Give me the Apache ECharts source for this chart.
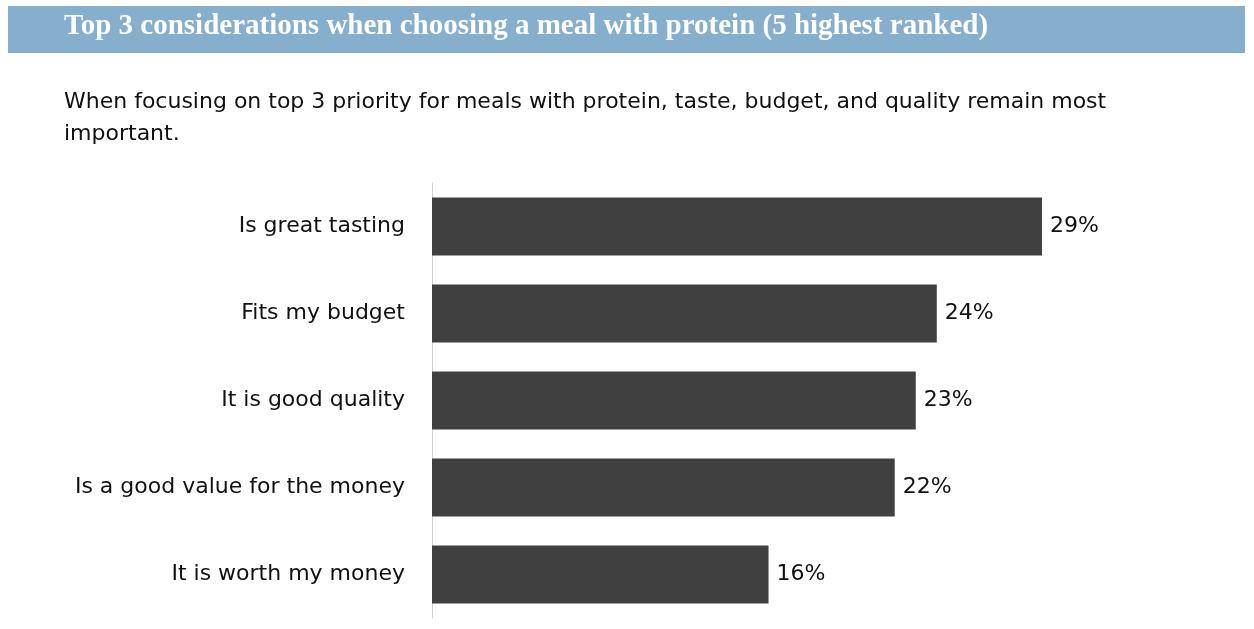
<!DOCTYPE html>
<html><head><meta charset="utf-8">
<script src="https://cdn.jsdelivr.net/npm/echarts@6/dist/echarts.min.js"></script>
<style>html,body{margin:0;padding:0;background:#fff}#main{width:1254px;height:629px}</style>
</head><body><div id="main"></div>
<script>
var categories = ['Is great tasting', 'Fits my budget', 'It is good quality', 'Is a good value for the money', 'It is worth my money'];
var values = [29, 24, 23, 22, 16];

var myChart = echarts.init(document.getElementById('main'));
var option = {
    animation: false,
    graphic: [
        { type: 'rect', shape: { x: 8, y: 6, width: 1237, height: 47 }, style: { fill: '#85AFCC' } },
        { type: 'text', left: 64, top: 12, style: { text: 'Top 3 considerations when choosing a meal with protein (5 highest ranked)', fill: '#fff', font: 'bold 29px "Liberation Serif"' } },
        { type: 'text', left: 64, top: 86, style: { text: 'When focusing on top 3 priority for meals with protein, taste, budget, and quality remain most\nimportant.', fill: '#111', font: '22px "DejaVu Sans"', lineHeight: 32 } }
    ],
    grid: { left: 432, top: 183, width: 631, height: 435 },
    xAxis: { type: 'value', min: 0, max: 30, show: false },
    yAxis: {
        type: 'category', data: categories, inverse: true,
        axisLine: { show: true, lineStyle: { color: '#d0d0d0' } },
        axisTick: { show: false },
        axisLabel: { color: '#111', fontSize: 22, fontFamily: 'DejaVu Sans', margin: 27 }
    },
    series: [{
        type: 'bar', data: values, barWidth: 58,
        itemStyle: { color: '#404040' },
        label: { show: true, position: 'right', formatter: '{c}%', color: '#111', fontSize: 22, fontFamily: 'DejaVu Sans', distance: 8 }
    }]
};
myChart.setOption(option);
</script></body></html>
